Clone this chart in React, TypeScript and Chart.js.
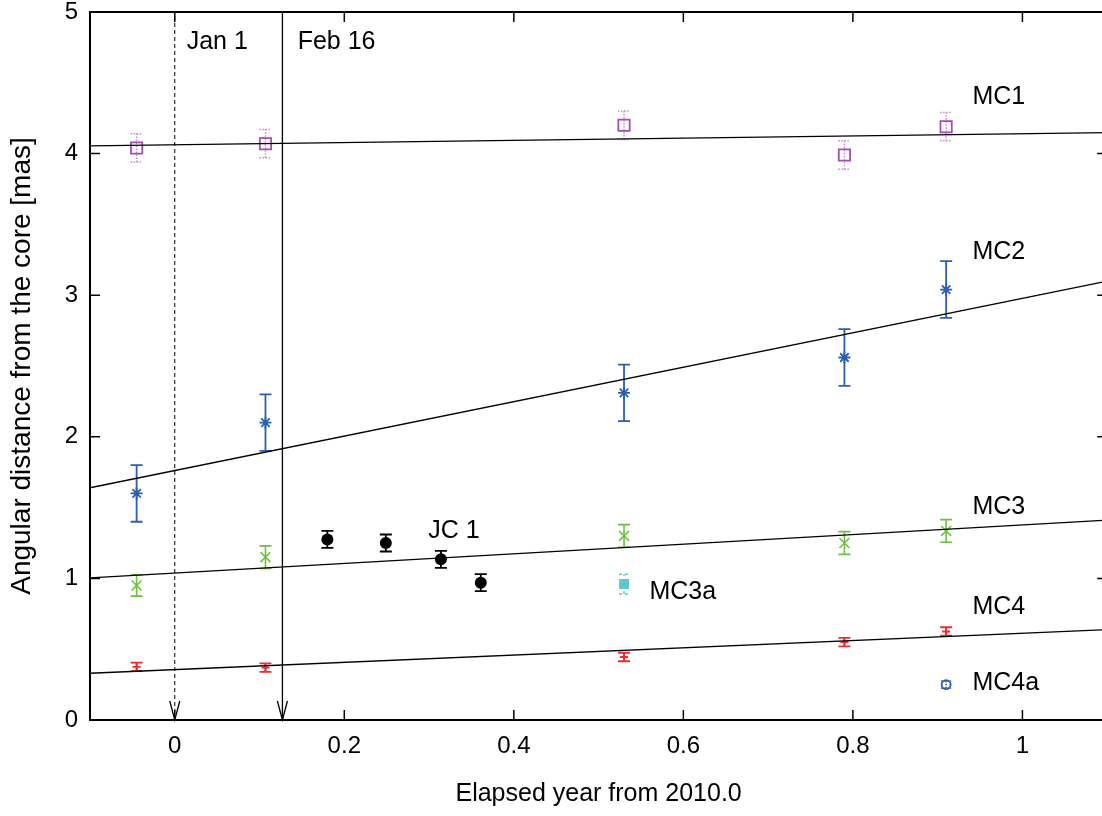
import React, { useEffect, useRef } from "react";
import { Chart, registerables } from "chart.js";

Chart.register(...registerables);

// ---------- data ----------
const epochs = [-0.045, 0.107, 0.53, 0.79, 0.91];
const mc1Values = [4.04, 4.07, 4.2, 3.99, 4.19];
const mc1Errors = [0.1, 0.1, 0.1, 0.1, 0.1];
const mc2Values = [1.6, 2.1, 2.31, 2.56, 3.04];
const mc2Errors = [0.2, 0.2, 0.2, 0.2, 0.2];
const mc3Values = [0.95, 1.15, 1.3, 1.25, 1.335];
const mc3Errors = [0.075, 0.08, 0.08, 0.08, 0.08];
const mc4Values = [0.375, 0.37, 0.445, 0.55, 0.625];
const mc4Errors = [0.03, 0.03, 0.03, 0.03, 0.03];

const jc1Epochs = [0.18, 0.249, 0.314, 0.361];
const jc1Values = [1.275, 1.25, 1.135, 0.97];
const jc1Errors = [0.06, 0.06, 0.06, 0.06];

const mc3aEpochs = [0.53];
const mc3aValues = [0.96];
const mc3aErrors = [0.07];

const mc4aEpochs = [0.91];
const mc4aValues = [0.25];
const mc4aErrors = [0.025];

// fitted lines: values at the two ends of the x range
const fitEnds = [-0.1, 1.1];
const mc1Fit = [4.055, 4.148];
const mc2Fit = [1.64, 3.1];
const mc3Fit = [1.003, 1.412];
const mc4Fit = [0.33, 0.638];

// vertical markers (Jan 1, Feb 16)
const markerEpochs = [0, 0.127];

const xTicks = [0, 0.2, 0.4, 0.6, 0.8, 1];
const yTicks = [0, 1, 2, 3, 4, 5];

const labelTexts = ["Jan 1", "Feb 16", "MC1", "MC2", "MC3", "MC4", "MC4a", "MC3a", "JC 1"];
const labelX = [0.014, 0.145, 0.941, 0.941, 0.941, 0.941, 0.941, 0.56, 0.299];
const labelY = [4.79, 4.79, 4.4, 3.305, 1.5, 0.8, 0.26, 0.905, 1.335];

// ---------- styles ----------
const FONT = "'Liberation Sans', Arial, Helvetica, sans-serif";
const PURPLE = "#a24fb0";
const BLUE = "#2c5fad";
const GREEN = "#6dbf45";
const RED = "#ee2c2c";
const CYAN = "#5ec7d2";

const pts = (xs: number[], ys: number[]) => xs.map((x, i) => ({ x, y: ys[i] }));

const errorBarPlugin = {
  id: "errorBars",
  beforeDatasetsDraw(chart: any) {
    const ctx = chart.ctx;
    const xs = chart.scales.x;
    const ys = chart.scales.y;
    chart.data.datasets.forEach((ds: any) => {
      if (!ds.errors) return;
      ctx.save();
      ctx.strokeStyle = ds.errColor || ds.borderColor;
      ctx.lineWidth = ds.errWidth || 1.5;
      ctx.setLineDash(ds.errDash || []);
      ds.data.forEach((p: any, i: number) => {
        const e = ds.errors[i];
        const px = xs.getPixelForValue(p.x);
        const y1 = ys.getPixelForValue(p.y - e);
        const y2 = ys.getPixelForValue(p.y + e);
        const cap = ds.errCap || 6;
        ctx.beginPath();
        ctx.moveTo(px, y1);
        ctx.lineTo(px, y2);
        ctx.moveTo(px - cap, y1);
        ctx.lineTo(px + cap, y1);
        ctx.moveTo(px - cap, y2);
        ctx.lineTo(px + cap, y2);
        ctx.stroke();
      });
      ctx.restore();
    });
  },
};

const framePlugin = {
  id: "frame",
  afterDraw(chart: any) {
    const ctx = chart.ctx;
    const a = chart.chartArea;
    const xs = chart.scales.x;
    const ys = chart.scales.y;
    ctx.save();
    ctx.strokeStyle = "#000";
    ctx.lineWidth = 2;
    ctx.setLineDash([]);
    ctx.strokeRect(a.left, a.top, a.right - a.left, a.bottom - a.top);
    ctx.lineWidth = 1.5;
    const T = 10;
    ctx.beginPath();
    xTicks.forEach((v) => {
      const px = xs.getPixelForValue(v);
      ctx.moveTo(px, a.bottom);
      ctx.lineTo(px, a.bottom - T);
      ctx.moveTo(px, a.top);
      ctx.lineTo(px, a.top + T);
    });
    yTicks.forEach((v) => {
      const py = ys.getPixelForValue(v);
      ctx.moveTo(a.left, py);
      ctx.lineTo(a.left + T, py);
      ctx.moveTo(a.right, py);
      ctx.lineTo(a.right - T, py);
    });
    ctx.stroke();
    // arrowheads on marker lines
    ctx.lineWidth = 1.3;
    markerEpochs.forEach((v) => {
      const px = xs.getPixelForValue(v);
      ctx.beginPath();
      ctx.moveTo(px - 5, a.bottom - 19);
      ctx.lineTo(px, a.bottom);
      ctx.lineTo(px + 5, a.bottom - 19);
      ctx.stroke();
    });
    // text labels
    ctx.fillStyle = "#000";
    ctx.font = `25px ${FONT}`;
    ctx.textAlign = "left";
    ctx.textBaseline = "middle";
    labelTexts.forEach((t, i) => {
      ctx.fillText(t, xs.getPixelForValue(labelX[i]), ys.getPixelForValue(labelY[i]));
    });
    ctx.restore();
  },
};

export default function App() {
  const ref = useRef<HTMLCanvasElement>(null);

  useEffect(() => {
    if (!ref.current) return;
    const chart = new Chart(ref.current, {
      type: "scatter",
      data: {
        datasets: [
          {
            label: "Jan 1",
            data: pts([markerEpochs[0], markerEpochs[0]], [0, 5]),
            showLine: true,
            borderColor: "#000",
            borderWidth: 1,
            borderDash: [4, 3],
            pointRadius: 0,
          },
          {
            label: "Feb 16",
            data: pts([markerEpochs[1], markerEpochs[1]], [0, 5]),
            showLine: true,
            borderColor: "#000",
            borderWidth: 1.3,
            pointRadius: 0,
          },
          ...[mc1Fit, mc2Fit, mc3Fit, mc4Fit].map((f, i) => ({
            label: "fit" + (i + 1),
            data: pts(fitEnds, f),
            showLine: true,
            borderColor: "#000",
            borderWidth: 1.3,
            pointRadius: 0,
          })),
          {
            label: "MC1",
            data: pts(epochs, mc1Values),
            errors: mc1Errors,
            errColor: "#c48ccf",
            errDash: [1.5, 1.5],
            errWidth: 1.5,
            pointStyle: "rect",
            pointRadius: 8,
            borderColor: PURPLE,
            backgroundColor: "rgba(0,0,0,0)",
            borderWidth: 1.8,
          },
          {
            label: "MC2",
            data: pts(epochs, mc2Values),
            errors: mc2Errors,
            errWidth: 1.8,
            pointStyle: "star",
            pointRadius: 6,
            borderColor: BLUE,
            backgroundColor: BLUE,
            borderWidth: 1.8,
          },
          {
            label: "MC3",
            data: pts(epochs, mc3Values),
            errors: mc3Errors,
            errWidth: 1.6,
            pointStyle: "crossRot",
            pointRadius: 7,
            borderColor: GREEN,
            backgroundColor: GREEN,
            borderWidth: 1.6,
          },
          {
            label: "MC4",
            data: pts(epochs, mc4Values),
            errors: mc4Errors,
            errWidth: 1.8,
            errCap: 6,
            pointStyle: "cross",
            pointRadius: 4,
            borderColor: RED,
            backgroundColor: RED,
            borderWidth: 1.8,
          },
          {
            label: "JC1",
            data: pts(jc1Epochs, jc1Values),
            errors: jc1Errors,
            errWidth: 1.8,
            pointStyle: "circle",
            pointRadius: 6,
            borderColor: "#000",
            backgroundColor: "#000",
            borderWidth: 0,
          },
          {
            label: "MC3a",
            data: pts(mc3aEpochs, mc3aValues),
            errors: mc3aErrors,
            errDash: [3, 3],
            errWidth: 1.5,
            errCap: 5,
            pointStyle: "rect",
            pointRadius: 7,
            borderColor: CYAN,
            backgroundColor: CYAN,
            borderWidth: 0,
          },
          {
            label: "MC4a",
            data: pts(mc4aEpochs, mc4aValues),
            errors: mc4aErrors,
            errDash: [1.5, 1.5],
            errWidth: 1.5,
            errCap: 5,
            pointStyle: "circle",
            pointRadius: 4.5,
            borderColor: BLUE,
            backgroundColor: "rgba(0,0,0,0)",
            borderWidth: 1.8,
          },
        ] as any,
      },
      options: {
        responsive: false,
        animation: false,
        layout: { padding: { top: 12, right: 5, left: 0, bottom: 0 } },
        plugins: {
          legend: { display: false },
          tooltip: { enabled: false },
        },
        scales: {
          x: {
            type: "linear",
            min: -0.1,
            max: 1.1,
            afterFit: (s: any) => {
              s.height = 96;
              s.paddingLeft = 0;
              s.paddingRight = 0;
            },
            afterBuildTicks: (s: any) => {
              s.ticks = xTicks.map((v) => ({ value: v }));
            },
            grid: { display: false },
            border: { display: false },
            ticks: {
              autoSkip: false,
              maxRotation: 0,
              padding: 4,
              color: "#000",
              font: { family: FONT, size: 24 },
              callback: (v: any) => String(v),
            },
            title: {
              display: true,
              text: "Elapsed year from 2010.0",
              color: "#000",
              font: { family: FONT, size: 25 },
              padding: { top: 0, bottom: 7 },
            },
          },
          y: {
            type: "linear",
            min: 0,
            max: 5,
            afterFit: (s: any) => {
              s.width = 90;
              s.paddingTop = 0;
              s.paddingBottom = 0;
            },
            afterBuildTicks: (s: any) => {
              s.ticks = yTicks.map((v) => ({ value: v }));
            },
            grid: { display: false },
            border: { display: false },
            ticks: {
              autoSkip: false,
              padding: 4,
              color: "#000",
              font: { family: FONT, size: 24 },
              callback: (v: any) => String(v),
            },
            title: {
              display: true,
              text: "Angular distance from the core [mas]",
              color: "#000",
              font: { family: FONT, size: 28 },
              padding: { top: 5, bottom: 0 },
            },
          },
        },
      } as any,
      plugins: [errorBarPlugin, framePlugin],
    });
    return () => chart.destroy();
  }, []);

  return (
    <div
      style={{
        position: "absolute",
        left: 0,
        top: 0,
        width: 1102,
        height: 816,
        overflow: "hidden",
        background: "#fff",
      }}
    >
      <canvas ref={ref} width={1117} height={816} style={{ display: "block" }} />
    </div>
  );
}
